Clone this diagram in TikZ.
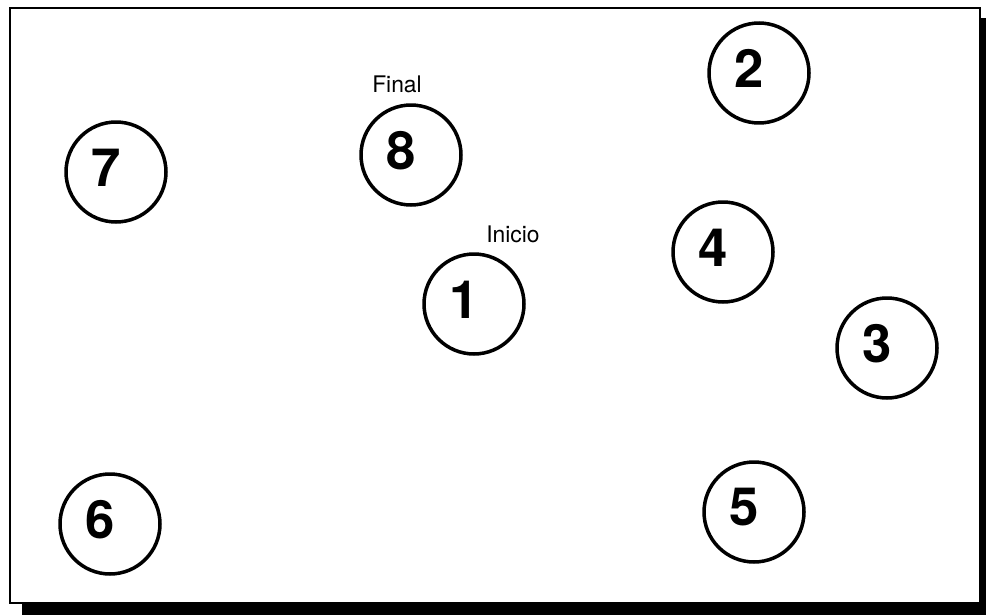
\documentclass[tikz,border=0pt]{standalone}
\usepackage{fontspec}
\setmainfont{TeX Gyre Heros}
\usepackage{tikz}
\usetikzlibrary{positioning}

\begin{document}
\begin{tikzpicture}[x=0.02cm, y=-0.02cm,
  num/.style={font=\fontsize{30}{30}\selectfont\bfseries, inner sep=0pt},
  city/.style={circle, draw=black, line width=2pt, fill=white, minimum size=2cm, inner sep=0pt,
    label={[num, xshift=-0.2cm, yshift=0.09cm]center:#1}},
  tag/.style={font=\fontsize{13}{13}\selectfont, inner sep=1pt},
  frame/.style={draw=black, line width=1.6pt}]
\useasboundingbox (0,0) rectangle (986,615);
% sombra y marco
\fill[black] (22,603) rectangle (986,615);
\fill[black] (979,18) rectangle (986,615);
\draw[frame] (10,8) rectangle (980,603);
% ciudades
\node[city=7] (n7) at (116,172) {};
\node[city=8] (n8) at (411,155) {};
\node[city=2] (n2) at (759,73)  {};
\node[city=4] (n4) at (723,252) {};
\node[city=1] (n1) at (474,304) {};
\node[city=3] (n3) at (887,348) {};
\node[city=6] (n6) at (110,524) {};
\node[city=5] (n5) at (754,512) {};
% etiquetas
\node[tag] (fin) at (397,84) {Final};
\node[tag] (ini) at (513,234) {Inicio};
\end{tikzpicture}
\end{document}
